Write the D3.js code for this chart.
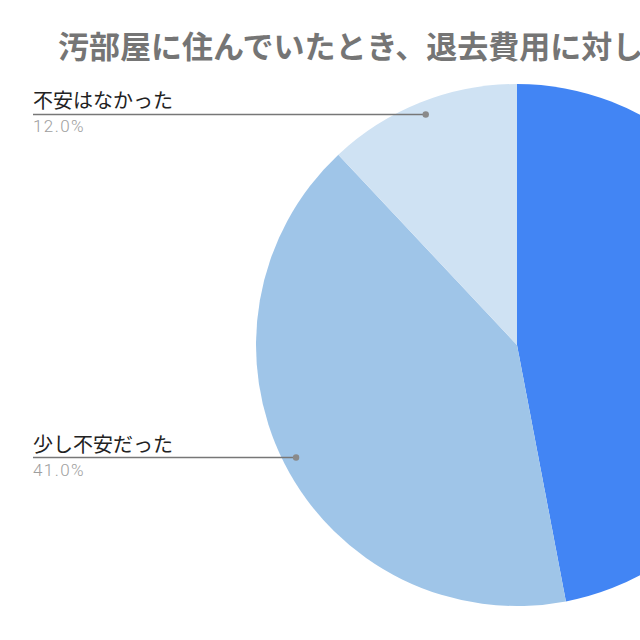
<!DOCTYPE html>
<html>
<head>
<meta charset="utf-8">
<script src="https://cdn.jsdelivr.net/npm/d3@7"></script>
<style>
  body { margin: 0; background: #fff; }
  svg { display: block; font-family: "Noto Sans CJK JP", "Noto Sans", sans-serif; }
</style>
</head>
<body>
<div id="chart"></div>
<script>
const TITLE = "汚部屋に住んでいたとき、退去費用に対して不安はありましたか？";
const categories = ["とても不安だった", "少し不安だった", "不安はなかった"];
const values = [47.0, 41.0, 12.0];
const colors = ["#4285f4", "#9fc5e8", "#cfe2f3"];

const WIDTH = 640,
  HEIGHT = 640,
  CX = 517,
  CY = 345,
  RADIUS = 261,
  LABEL_X = 33;

var svg = d3
  .select("#chart")
  .append("svg")
  .attr("width", WIDTH)
  .attr("height", HEIGHT);

svg
  .append("text")
  .attr("x", 58)
  .attr("y", 58)
  .attr("font-size", 31)
  .attr("font-weight", "bold")
  .attr("fill", "#757575")
  .text(TITLE);

var pie = d3.pie().sort(null).value(function(d) { return d; });
var arcs = pie(values);
var arc = d3.arc().innerRadius(0).outerRadius(RADIUS);
var dotArc = d3.arc().innerRadius(RADIUS * 0.95).outerRadius(RADIUS * 0.95);

var g = svg.append("g").attr("transform", "translate(" + CX + "," + CY + ")");

g.selectAll(".slice")
  .data(arcs)
  .enter()
  .append("path")
  .attr("class", "slice")
  .attr("d", arc)
  .attr("fill", function(d, i) { return colors[i]; });

// labels: a line from the slice to the side, name above it, share below
var labels = svg.selectAll(".label")
  .data(arcs)
  .enter()
  .append("g")
  .attr("class", "label");

function dotPos(d) {
  var c = dotArc.centroid(d);
  return [CX + c[0], CY + c[1]];
}
function isLeft(d) {
  return (d.startAngle + d.endAngle) / 2 > Math.PI;
}
function labelX(d) {
  return isLeft(d) ? LABEL_X : WIDTH + 300;
}

labels.append("line")
  .attr("x1", function(d) { return dotPos(d)[0]; })
  .attr("y1", function(d) { return dotPos(d)[1]; })
  .attr("x2", labelX)
  .attr("y2", function(d) { return dotPos(d)[1]; })
  .attr("stroke", "#777")
  .attr("stroke-width", 1.6);

labels.append("circle")
  .attr("cx", function(d) { return dotPos(d)[0]; })
  .attr("cy", function(d) { return dotPos(d)[1]; })
  .attr("r", 3.2)
  .attr("fill", "#8a8a8a");

labels.append("text")
  .attr("x", labelX)
  .attr("y", function(d) { return dotPos(d)[1] - 6; })
  .attr("text-anchor", function(d) { return isLeft(d) ? "start" : "end"; })
  .attr("font-size", 20)
  .attr("fill", "#222")
  .text(function(d, i) { return categories[i]; });

labels.append("text")
  .attr("x", labelX)
  .attr("y", function(d) { return dotPos(d)[1] + 18; })
  .attr("text-anchor", function(d) { return isLeft(d) ? "start" : "end"; })
  .attr("font-family", "Roboto, Arial, sans-serif")
  .attr("font-weight", 300)
  .attr("font-size", 17)
  .attr("letter-spacing", 1.4)
  .attr("fill", "#9e9e9e")
  .text(function(d) { return d.data.toFixed(1) + "%"; });
</script>
</body>
</html>
